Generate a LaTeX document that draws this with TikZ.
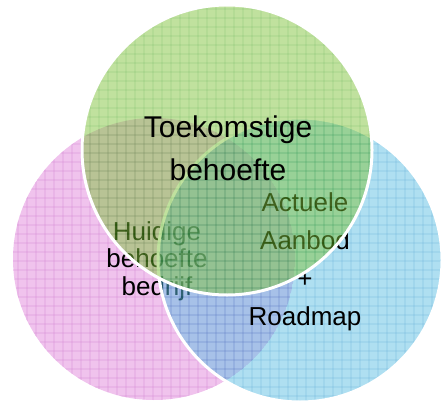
\documentclass[tikz,border=0pt]{standalone}
\usepackage{fontspec}
\setmainfont{Liberation Sans}

\definecolor{pinkfill}{RGB}{225,135,220}
\definecolor{pinkline}{RGB}{190,60,185}
\definecolor{bluefill}{RGB}{95,192,228}
\definecolor{blueline}{RGB}{20,140,200}
\definecolor{greenfill}{RGB}{130,196,62}
\definecolor{greenline}{RGB}{60,160,10}

\tikzset{
	gridline/.style={line width=0.7pt},
	rim/.style={draw=white, line width=3pt},
	venntext/.style={align=center, anchor=base, inner sep=0pt},
}

\begin{document}
\begin{tikzpicture}[x=1pt,y=1pt]
	\useasboundingbox (0,0) rectangle (441,405);
	% pink circle
	\begin{scope}[transparency group, opacity=0.5]
		\clip (154,146) circle (141);
		\fill[pinkfill] (154,146) circle (141);
		\draw[gridline, pinkline] (0,0) grid[step=9pt] (441,405);
	\end{scope}
	\node[venntext, font=\fontsize{26}{27.5}\selectfont] (huidige) at (157,110) {Huidige\\behoefte\\bedrijf};
	% blue circle
	\begin{scope}[transparency group, opacity=0.5]
		\clip (300,145) circle (142);
		\fill[bluefill] (300,145) circle (142);
		\draw[gridline, blueline] (0,0) grid[step=9pt] (441,405);
	\end{scope}
	\draw[rim] (300,145) circle (142);
	\node[venntext, font=\fontsize{26}{38}\selectfont] (actuele) at (305,80) {Actuele\\Aanbod\\+\\Roadmap};
	% green circle
	\begin{scope}[transparency group, opacity=0.5]
		\clip (227,255) circle (145);
		\fill[greenfill] (227,255) circle (145);
		\draw[gridline, greenline] (0,0) grid[step=9pt] (441,405);
	\end{scope}
	\draw[rim] (227,255) circle (145);
	\node[venntext, font=\fontsize{30}{43}\selectfont] (toekomst) at (228,225) {Toekomstige\\behoefte};
\end{tikzpicture}
\end{document}
